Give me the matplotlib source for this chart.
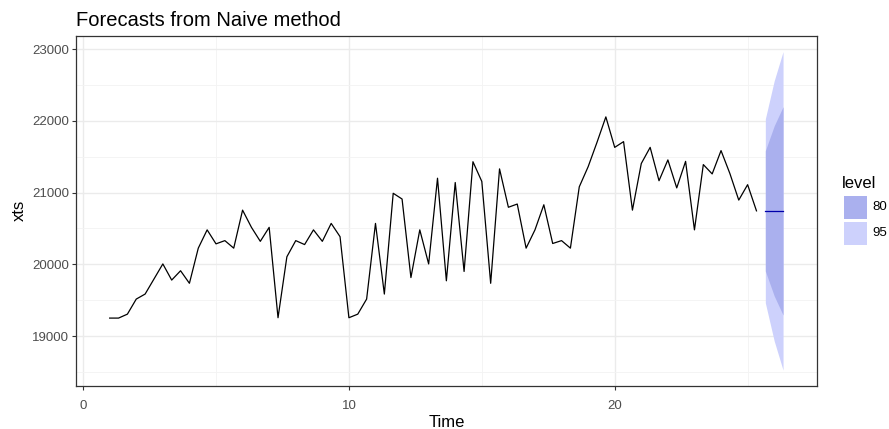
import matplotlib
matplotlib.use("Agg")
import matplotlib.pyplot as plt
from matplotlib.patches import Rectangle
import numpy as np

plt.rcParams["font.family"] = ["Liberation Sans", "DejaVu Sans"]

# 季度频率为 3 的时间序列，起点 t = 1
start, freq = 1.0, 3
values = [
    19250, 19250, 19305, 19515, 19585, 19795, 20005, 19780, 19910, 19735,
    20225, 20480, 20285, 20330, 20225, 20755, 20515, 20320, 20515, 19255,
    20105, 20330, 20275, 20480, 20320, 20570, 20385, 19255, 19305, 19515,
    20570, 19585, 20990, 20910, 19815, 20480, 20005, 21200, 19770, 21140,
    19900, 21430, 21155, 19735, 21330, 20795, 20840, 20225, 20480, 20830,
    20290, 20330, 20225, 21080, 21360, 21700, 22055, 21630, 21710, 20755,
    21405, 21630, 21165, 21455, 21065, 21435, 20480, 21390, 21260, 21585,
    21265, 20895, 21110, 20745,
]

# 朴素法预测（h = 3）及 80% / 95% 区间
fc_mean = [20745, 20745, 20745]
lo80 = [19907, 19560, 19293]
hi80 = [21583, 21930, 22197]
lo95 = [19463, 18932, 18525]
hi95 = [22027, 22558, 22965]

levels = ["80", "95"]
fill80 = "#AAB0EE"
fill95 = "#CDD1FC"

t = start + np.arange(len(values)) / freq
tf = t[-1] + np.arange(1, len(fc_mean) + 1) / freq

fig = plt.figure(figsize=(8.89, 4.29), dpi=100)
ax = fig.add_axes([0.0855, 0.1002, 0.8332, 0.8166])

ax.fill_between(tf, lo95, hi95, color=fill95, lw=0, zorder=2)
ax.fill_between(tf, lo80, hi80, color=fill80, lw=0, zorder=3)
ax.plot(t, values, color="black", lw=0.9, zorder=4)
ax.plot(tf, fc_mean, color="#0000AA", lw=0.9, zorder=5)

# ggplot 风格的 5% 扩展
xlo, xhi = t[0], tf[-1]
ylo, yhi = min(min(values), min(lo95)), max(max(values), max(hi95))
dx, dy = (xhi - xlo) * 0.05, (yhi - ylo) * 0.05
ax.set_xlim(xlo - dx, xhi + dx)
ax.set_ylim(ylo - dy, yhi + dy)

ax.set_xticks([0, 10, 20])
ax.set_xticks([5, 15, 25], minor=True)
ax.set_yticks([19000, 20000, 21000, 22000, 23000])
ax.set_yticks([18500, 19500, 20500, 21500, 22500], minor=True)
ax.grid(True, which="major", color="#EBEBEB", lw=1.0, zorder=0)
ax.grid(True, which="minor", color="#F3F3F3", lw=0.6, zorder=0)
ax.set_axisbelow(True)

for s in ax.spines.values():
    s.set_color("#333333")
    s.set_linewidth(0.9)
ax.tick_params(which="major", length=3, width=0.8, color="#333333",
               labelsize=9.5, labelcolor="#4D4D4D", pad=2)
ax.tick_params(axis="x", which="major", pad=7)
ax.tick_params(which="minor", length=0)

ax.set_xlabel("Time", fontsize=12, color="black", labelpad=2)
ax.set_ylabel("xts", fontsize=12, color="black", labelpad=4)
ax.set_title("Forecasts from Naive method", fontsize=14.5, loc="left",
             pad=7, color="black")

# 图例
fig.text(842 / 889, 1 - 184 / 429, "level", fontsize=12, va="center", ha="left")
keys = [(fill80, 195), (fill95, 221)]
for (col, top), lab in zip(keys, levels):
    fig.patches.append(Rectangle((844 / 889, 1 - (top + 24) / 429), 23 / 889, 23 / 429,
                                 transform=fig.transFigure, color=col, lw=0))
    fig.text(872 / 889, 1 - (top + 12) / 429, lab, fontsize=9.5, va="center",
             ha="left", color="black")

fig.savefig("out.png", dpi=100)
